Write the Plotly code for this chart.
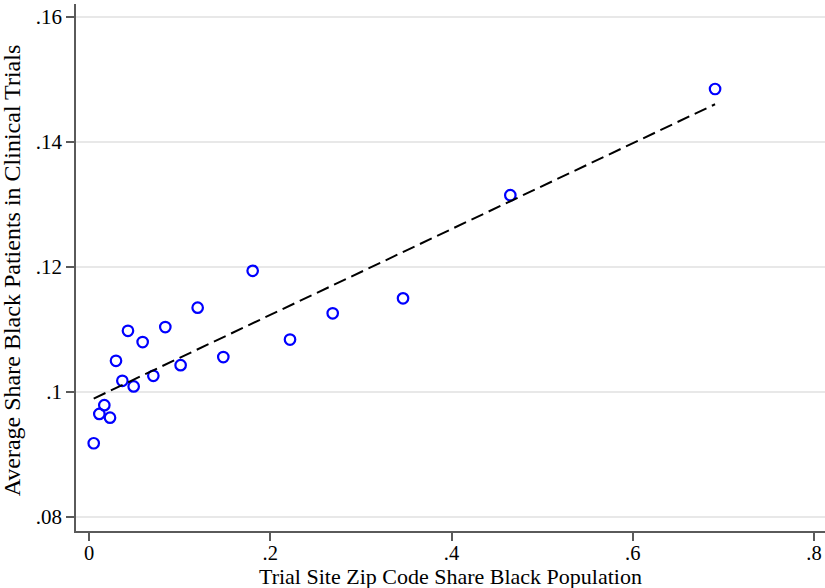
import plotly.graph_objects as go

# Binned scatter data
share_black_pop = [0.0052, 0.0114, 0.0169, 0.0232, 0.0298, 0.0368, 0.0430, 0.0493,
                   0.0592, 0.0710, 0.0842, 0.1011, 0.1199, 0.1482, 0.1806, 0.2218,
                   0.2689, 0.3465, 0.4649, 0.6908]
share_black_trials = [0.0918, 0.0965, 0.0979, 0.0959, 0.1050, 0.1018, 0.1098, 0.1009,
                      0.1080, 0.1026, 0.1104, 0.1043, 0.1135, 0.1056, 0.1194, 0.1084,
                      0.1126, 0.1150, 0.1315, 0.1485]

# Linear fit
fit_intercept = 0.0986
fit_slope = 0.0687

x_ticks = [0, 0.2, 0.4, 0.6, 0.8]
x_tick_labels = ["0", ".2", ".4", ".6", ".8"]
y_ticks = [0.08, 0.10, 0.12, 0.14, 0.16]
y_tick_labels = [".08", ".1", ".12", ".14", ".16"]

x_title = "Trial Site Zip Code Share Black Population"
y_title = "Average Share Black Patients in Clinical Trials"

fit_x = [min(share_black_pop), max(share_black_pop)]
fit_y = [fit_intercept + fit_slope * v for v in fit_x]

FONT = "Liberation Serif, Times New Roman, serif"

fig = go.Figure()
fig.add_trace(go.Scatter(
    x=share_black_pop, y=share_black_trials, mode="markers",
    marker=dict(symbol="circle-open", size=10.5, color="#0000ff",
                line=dict(width=2.2, color="#0000ff")),
    showlegend=False, cliponaxis=False))
fig.add_trace(go.Scatter(
    x=fit_x, y=fit_y, mode="lines",
    line=dict(color="black", width=2, dash="13px,6px"),
    showlegend=False))

fig.update_layout(
    width=825, height=588,
    margin=dict(l=76, r=0, t=4, b=57, autoexpand=False),
    paper_bgcolor="white", plot_bgcolor="white",
    font=dict(family=FONT, size=20, color="black"),
    xaxis=dict(range=[-0.01434, 0.8121], tickvals=x_ticks, ticktext=x_tick_labels,
               showgrid=False, zeroline=False, showline=True, linecolor="#5a5a5a",
               linewidth=1.5, ticks="outside", ticklen=8, tickcolor="#5a5a5a",
               tickwidth=1.5, automargin=False, ticklabelstandoff=-5,
               tickfont=dict(family=FONT, size=20.5, color="black")),
    yaxis=dict(range=[0.07776, 0.1621], tickvals=y_ticks, ticktext=y_tick_labels,
               showgrid=True, gridcolor="#e8e8e8", gridwidth=1.5, zeroline=False,
               showline=True, linecolor="#5a5a5a", linewidth=1.5,
               ticks="outside", ticklen=8, tickcolor="#5a5a5a", tickwidth=1.5,
               automargin=False,
               tickfont=dict(family=FONT, size=21, color="black")),
    annotations=[
        dict(text=x_title, xref="paper", yref="paper", x=0.5, y=-0.086,
             xanchor="center", yanchor="middle", showarrow=False,
             font=dict(family=FONT, size=22, color="black")),
        dict(text=y_title, xref="paper", yref="paper", x=-0.0854, y=0.493,
             xanchor="center", yanchor="middle", textangle=-90, showarrow=False,
             font=dict(family=FONT, size=24, color="black")),
    ],
)

fig.write_html("out.html", config={"displayModeBar": False},
               post_script="document.body.style.margin='0';")
